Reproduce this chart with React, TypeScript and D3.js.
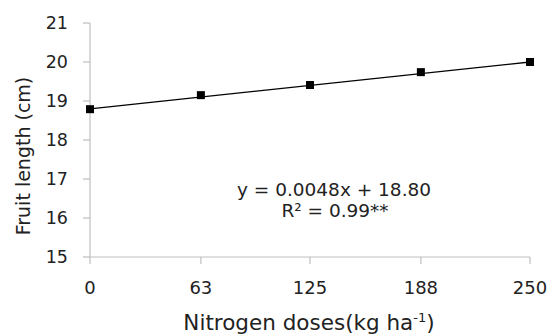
import * as d3 from "d3";
import React from "react";

const doses = [0, 63, 125, 188, 250];
const fruitLength = [18.79, 19.15, 19.41, 19.74, 20.0];
const yTicks = [15, 16, 17, 18, 19, 20, 21];
const slope = 0.0048;
const intercept = 18.8;

const W = 551;
const H = 334;
const margin = { top: 23, right: 21, bottom: 77, left: 90 };
const font = "'DejaVu Sans', sans-serif";

export default function App() {
  const x = d3.scaleLinear().domain([0, 250]).range([margin.left, W - margin.right]);
  const y = d3.scaleLinear().domain([15, 21]).range([H - margin.bottom, margin.top]);

  const trend = d3.line<number>()
    .x((d) => x(d))
    .y((d) => y(intercept + slope * d));

  const axisColor = "#bfbfbf";
  const y0 = y(15);

  return (
    <svg width={W} height={H} style={{ position: "absolute", left: 0, top: 0, background: "#fff" }}>
      {/* y axis */}
      <line x1={x(0)} x2={x(0)} y1={y(21)} y2={y0} stroke={axisColor} strokeWidth={1.2} />
      {yTicks.map((t) => (
        <g key={t}>
          <line x1={x(0) - 7} x2={x(0)} y1={y(t)} y2={y(t)} stroke={axisColor} strokeWidth={1.2} />
          <text x={68} y={y(t)} dy="0.36em" textAnchor="end" fontSize={17.5} fontFamily={font} fill="#222">
            {t}
          </text>
        </g>
      ))}
      {/* x axis */}
      <line x1={x(0)} x2={x(250)} y1={y0} y2={y0} stroke={axisColor} strokeWidth={1.2} />
      {doses.map((d) => (
        <g key={d}>
          <line x1={x(d)} x2={x(d)} y1={y0} y2={y0 + 7} stroke={axisColor} strokeWidth={1.2} />
          <text x={x(d)} y={294} textAnchor="middle" fontSize={18} fontFamily={font} fill="#222">
            {d}
          </text>
        </g>
      ))}
      {/* trend line */}
      <path d={trend([0, 250]) || ""} fill="none" stroke="#000" strokeWidth={1.3} />
      {doses.map((d, i) => (
        <rect key={d} x={x(d) - 4} y={y(fruitLength[i]) - 4} width={8} height={8} fill="#000" />
      ))}
      {/* equation */}
      <text x={334} y={196} textAnchor="middle" fontSize={18.5} fontFamily={font} fill="#222">
        y = 0.0048x + 18.80
      </text>
      <text x={335} y={217} textAnchor="middle" fontSize={18.5} fontFamily={font} fill="#222">
        R² = 0.99**
      </text>
      {/* titles */}
      <text
        transform={`translate(30,156) rotate(-90)`}
        textAnchor="middle"
        fontSize={19}
        fontFamily={font}
        fill="#222"
      >
        Fruit length (cm)
      </text>
      <text x={309} y={330} textAnchor="middle" fontSize={21.5} fontFamily={font} fill="#222">
        Nitrogen doses(kg ha<tspan dy={-8} fontSize={13}>-1</tspan><tspan dy={8}>)</tspan>
      </text>
    </svg>
  );
}
